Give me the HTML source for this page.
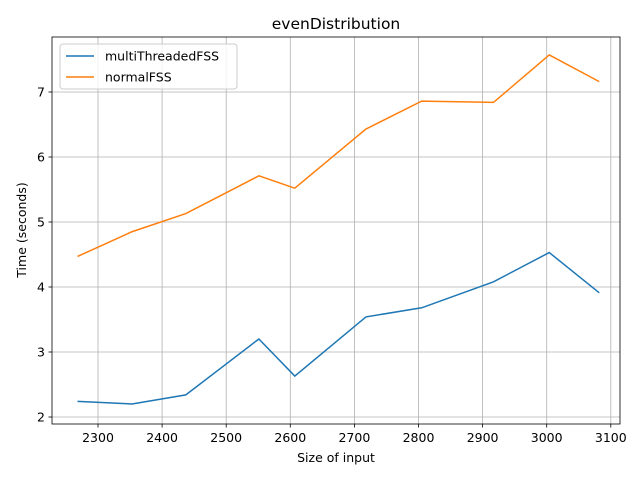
<!DOCTYPE html>
<html><head><meta charset="utf-8"><style>body{margin:0;background:#fff}svg{font-family:"DejaVu Sans","Liberation Sans",sans-serif}</style></head>
<body>
<svg id="c" width="640" height="480"></svg>
<script>
const xValues=[2268,2353,2437,2551,2607,2718,2805,2917,3004,3082];
const multiThreaded=[2.24,2.20,2.34,3.20,2.63,3.54,3.68,4.08,4.53,3.91];
const normalFSS=[4.47,4.85,5.13,5.71,5.52,6.43,6.86,6.84,7.57,7.16];
const xTicks=[2300,2400,2500,2600,2700,2800,2900,3000,3100];
const yTicks=[2,3,4,5,6,7];
const L=52,R=620,T=37,B=424;
const sx=v=>98+(v-2300)*0.641;
const sy=v=>417-(v-2)*65;
const svg=document.getElementById('c');
const NS='http://www.w3.org/2000/svg';
function mk(t,a,p){const e=document.createElementNS(NS,t);for(const k in a)e.setAttribute(k,a[k]);(p||svg).appendChild(e);return e;}
xTicks.forEach(v=>{const x=sx(v);
const g=mk('line',{x1:x,x2:x,y1:T,y2:B,stroke:'#b0b0b0','stroke-width':0.8});


mk('line',{x1:x,x2:x,y1:B,y2:B+3.5,stroke:'#000','stroke-width':0.8});
const t=mk('text',{x:x,y:B+18,'font-size':12.5,'text-anchor':'middle'});t.textContent=v;

});
yTicks.forEach(v=>{const y=sy(v);
const g=mk('line',{x1:L,x2:R,y1:y,y2:y,stroke:'#b0b0b0','stroke-width':0.8});


mk('line',{x1:L-3.5,x2:L,y1:y,y2:y,stroke:'#000','stroke-width':0.8});
const t=mk('text',{x:L-7,y:y+4.5,'font-size':12.5,'text-anchor':'end'});t.textContent=v;

});
function line(vals,color,name){const p=mk('polyline',{points:xValues.map((x,i)=>sx(x)+','+sy(vals[i])).join(' '),fill:'none',stroke:color,'stroke-width':1.5});

}
line(multiThreaded,'#1f77b4','multithreaded-line');
line(normalFSS,'#ff7f0e','normalfss-line');
const fr=mk('rect',{x:L,y:T,width:R-L,height:B-T,fill:'none',stroke:'#000','stroke-width':0.8});


</script>
<svg style="position:absolute;left:0;top:0" width="640" height="480">
<text x="336" y="29" font-size="15.5" text-anchor="middle">evenDistribution</text>
<text x="336" y="462" font-size="12.5" text-anchor="middle">Size of input</text>
<text transform="translate(26,230) rotate(-90)" font-size="12.5" text-anchor="middle">Time (seconds)</text>
<g>
<rect x="60" y="44" width="177" height="45" rx="3" fill="#fff" fill-opacity="0.8" stroke="#ccc"/>
<line x1="66" x2="94" y1="56" y2="56" stroke="#1f77b4" stroke-width="1.5"/>
<text x="105" y="60.5" font-size="12.5">multiThreadedFSS</text>
<line x1="66" x2="94" y1="77" y2="77" stroke="#ff7f0e" stroke-width="1.5"/>
<text x="105" y="81.5" font-size="12.5">normalFSS</text>
</g>
</svg>
</body></html>
